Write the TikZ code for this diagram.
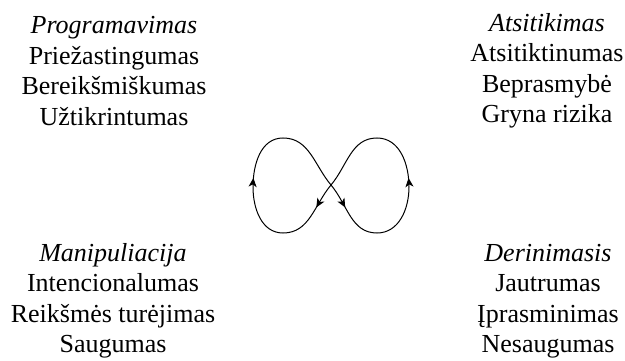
\documentclass[tikz,border=0pt]{standalone}
\usepackage{fontspec}
\setmainfont{Liberation Serif}
\usepackage{tikz}
\usetikzlibrary{arrows.meta, decorations.markings}
\tikzstyle{quadrant} = [align=center, inner sep=0pt, font=\fontsize{26}{30.5}\selectfont]
\tikzstyle{begalybe} = [line width=1pt, postaction={decorate}, decoration={markings,
  mark=at position 0.05 with {\arrow{Stealth[length=9pt,width=8pt,inset=2.5pt]}},
  mark=at position 0.265 with {\arrow{Stealth[length=9pt,width=8pt,inset=2.5pt]}},
  mark=at position 0.55 with {\arrow{Stealth[length=9pt,width=8pt,inset=2.5pt]}},
  mark=at position 0.765 with {\arrow{Stealth[length=9pt,width=8pt,inset=2.5pt]}}}]

\begin{document}
\begin{tikzpicture}[x=1pt, y=1pt, >=Stealth]
\useasboundingbox (0,0) rectangle (625,360);

% four corners
\node[quadrant] (programavimas) at (114,289) {\textit{Programavimas}\\Priežastingumas\\Bereikšmiškumas\\Užtikrintumas};
\node[quadrant] (atsitikimas) at (547,289) {\textit{Atsitikimas}\\Atsitiktinumas\\Beprasmybė\\Gryna rizika};
\node[quadrant] (manipuliacija) at (113,59) {\textit{Manipuliacija}\\Intencionalumas\\Reikšmės turėjimas\\Saugumas};
\node[quadrant] (derinimasis) at (548,59) {\textit{Derinimasis}\\Jautrumas\\Įprasminimas\\Nesaugumas};

% figure eight
\coordinate (kryzius) at (331,175);
\coordinate (desapacia) at (377,127);
\coordinate (desine) at (409,173);
\coordinate (desvirsus) at (377,222);
\coordinate (kairapacia) at (283,127);
\coordinate (kaire) at (253,173);
\coordinate (kairvirsus) at (283,222);

\draw[begalybe]
(kryzius) to[out=-50,in=180] (desapacia) to[out=0,in=-90] (desine)
to[out=90,in=0] (desvirsus) to[out=180,in=50] (kryzius)
to[out=-130,in=0] (kairapacia) to[out=180,in=-90] (kaire)
to[out=90,in=180] (kairvirsus) to[out=0,in=130] (kryzius);
\end{tikzpicture}
\end{document}
